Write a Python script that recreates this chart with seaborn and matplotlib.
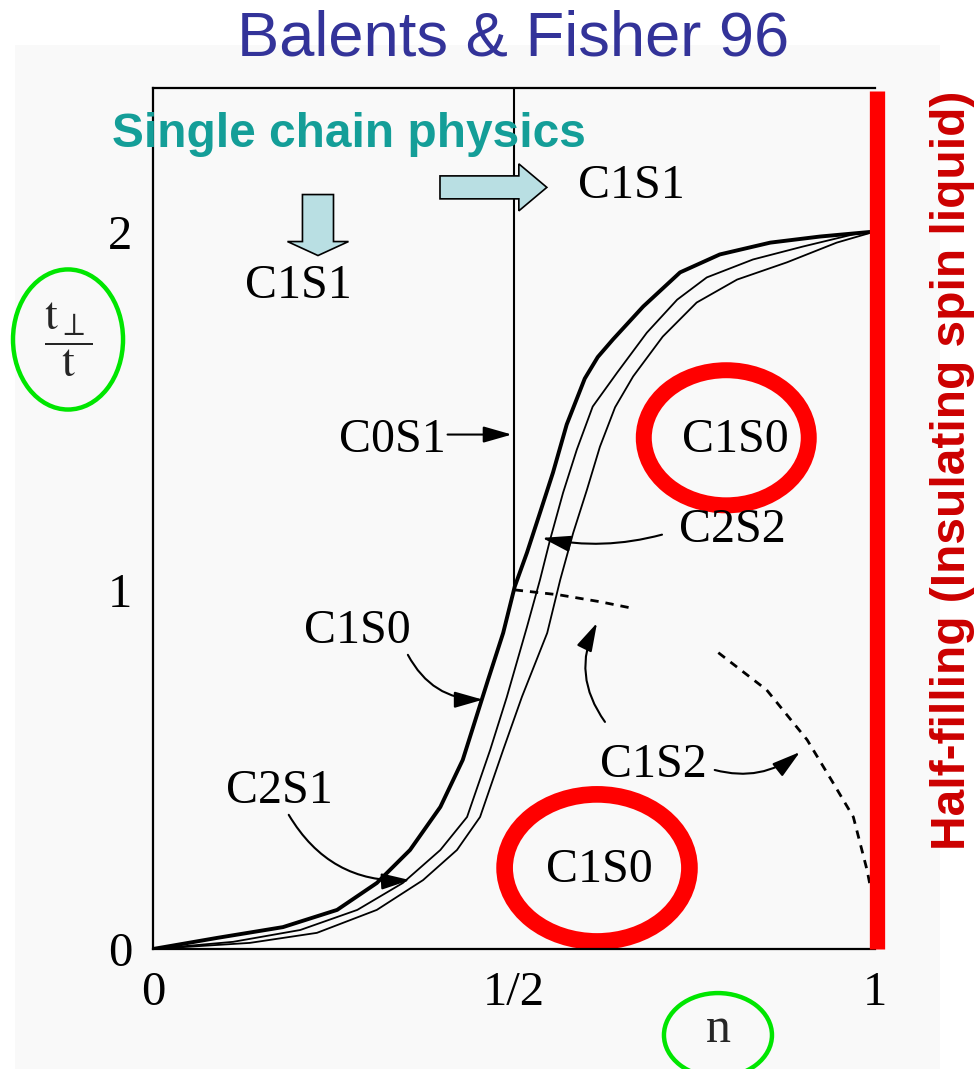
import numpy as np
import pandas as pd
import matplotlib
matplotlib.use("Agg")
import matplotlib.pyplot as plt
import seaborn as sns
from matplotlib.patches import Ellipse, Rectangle, FancyArrow

# ---------------- data ----------------
thick_n = [0.0, 0.089, 0.180, 0.255, 0.310, 0.356, 0.398, 0.429, 0.464, 0.485, 0.501,
           0.518, 0.536, 0.554, 0.573, 0.598, 0.616, 0.637, 0.679, 0.730, 0.785, 0.855, 0.924, 1.0]
thick_t = [0.0, 0.031, 0.061, 0.109, 0.184, 0.276, 0.396, 0.527, 0.750, 0.881, 1.010,
           1.105, 1.216, 1.328, 1.462, 1.590, 1.650, 1.699, 1.791, 1.886, 1.936, 1.969, 1.986, 2.0]

mid_n = [0.0, 0.111, 0.204, 0.283, 0.346, 0.398, 0.435, 0.467, 0.490, 0.518, 0.536,
         0.550, 0.568, 0.587, 0.609, 0.643, 0.684, 0.726, 0.767, 0.831, 0.900, 0.970, 1.0]
mid_t = [0.0, 0.020, 0.053, 0.109, 0.184, 0.276, 0.368, 0.555, 0.702, 0.898, 1.029,
         1.141, 1.272, 1.392, 1.512, 1.607, 1.718, 1.810, 1.872, 1.922, 1.958, 1.992, 2.0]

right_n = [0.0, 0.134, 0.227, 0.310, 0.374, 0.421, 0.453, 0.485, 0.511, 0.546, 0.564,
           0.582, 0.601, 0.619, 0.640, 0.665, 0.706, 0.753, 0.809, 0.878, 0.947, 1.0]
right_t = [0.0, 0.017, 0.045, 0.109, 0.192, 0.276, 0.368, 0.555, 0.703, 0.881, 1.029,
           1.160, 1.280, 1.400, 1.510, 1.596, 1.707, 1.802, 1.866, 1.914, 1.969, 2.0]

half_line_n = [0.5, 0.5]
half_line_t = [1.0, 2.4]

dash_upper_n = [0.501, 0.563, 0.619, 0.661]
dash_upper_t = [1.001, 0.987, 0.968, 0.951]

dash_right_n = [0.783, 0.850, 0.906, 0.942, 0.970, 0.989, 0.993]
dash_right_t = [0.826, 0.722, 0.583, 0.463, 0.368, 0.220, 0.179]

x_ticks = [0, 0.5, 1]
x_ticklabels = ["0", "1/2", "1"]
y_ticks = [0, 1, 2]
y_ticklabels = ["0", "1", "2"]

title_text = "Balents & Fisher 96"
single_chain_text = "Single chain physics"
half_filling_text = "Half-filling (Insulating spin liquid)"

# ---------------- style ----------------
sns.set_theme(style="white")
plt.rcParams['font.family'] = ['Liberation Serif', 'DejaVu Serif']
plt.rcParams['mathtext.fontset'] = 'stix'

W, H = 978, 1069
fig = plt.figure(figsize=(W / 100, H / 100), dpi=100)
fig.patch.set_facecolor('white')
fig.patches.append(Rectangle((15 / W, 0), (940 - 15) / W, (H - 45) / H,
                             transform=fig.transFigure, facecolor='#f9f9f9',
                             edgecolor='none', zorder=-5))

ax = fig.add_axes([153 / W, (H - 949) / H, 722 / W, 861 / H])
ax.set_facecolor('#f9f9f9')
ax.set_xlim(0, 1)
ax.set_ylim(0, 2.4)

# curves
sns.lineplot(x=thick_n, y=thick_t, ax=ax, color='black', lw=2.8, sort=False, estimator=None)
sns.lineplot(x=mid_n, y=mid_t, ax=ax, color='black', lw=1.3, sort=False, estimator=None)
sns.lineplot(x=right_n, y=right_t, ax=ax, color='black', lw=1.3, sort=False, estimator=None)
sns.lineplot(x=half_line_n, y=half_line_t, ax=ax, color='black', lw=1.5, sort=False, estimator=None)
sns.lineplot(x=dash_upper_n, y=dash_upper_t, ax=ax, color='black', lw=2.0, sort=False,
             estimator=None, linestyle=(0, (3, 2.5)))
sns.lineplot(x=dash_right_n, y=dash_right_t, ax=ax, color='black', lw=2.0, sort=False,
             estimator=None, linestyle=(0, (3, 2.5)))

# red half filling line
ax.axvline(1.003, ymin=0, ymax=0.997, color='#ff0000', lw=11, clip_on=False, zorder=5,
           solid_capstyle='butt')

# spines and ticks
for s in ['left', 'bottom', 'top']:
    ax.spines[s].set_color('black')
    ax.spines[s].set_linewidth(1.6)
ax.spines['right'].set_visible(False)
ax.set_xticks(x_ticks)
ax.set_xticklabels(x_ticklabels, fontsize=35)
ax.set_yticks(y_ticks)
ax.set_yticklabels(y_ticklabels, fontsize=35)
ax.tick_params(axis='both', direction='in', length=12, width=1.2, color='black',
               labelcolor='black')
ax.tick_params(axis='x', pad=16)
ax.tick_params(axis='y', pad=15)
ax.grid(False)

# axis labels
ax.set_xlabel('n', fontsize=36, va='baseline')
ax.xaxis.set_label_coords(0.7825, -0.108)
ax.set_ylabel(r'$\dfrac{\mathrm{t}_{\perp}}{\mathrm{t}}$', fontsize=33, rotation=0,
              ha='center', va='center')
ax.yaxis.set_label_coords(-0.1177, 0.7073)

# green ellipses around axis labels
ax.add_patch(Ellipse((-0.1177, 1.699), 0.1524, 0.3905, fill=False, edgecolor='#00e600',
                     lw=3.2, clip_on=False))
ax.add_patch(Ellipse((0.7825, -0.240), 0.1496, 0.2343, fill=False, edgecolor='#00e600',
                     lw=3.2, clip_on=False))

# red circles
ax.add_patch(Ellipse((0.794, 1.425), 0.2285, 0.3766, fill=False, edgecolor='#ff0000', lw=11.5))
ax.add_patch(Ellipse((0.615, 0.226), 0.256, 0.410, fill=False, edgecolor='#ff0000', lw=12))

# phase labels
lab_kw = dict(fontsize=34.5, ha='center', va='center', color='black')
ax.text(0.201, 1.847, 'C1S1', **lab_kw)
ax.text(0.663, 2.126, 'C1S1', **lab_kw)
ax.text(0.331, 1.420, 'C0S1', **lab_kw)
ax.text(0.806, 1.420, 'C1S0', **lab_kw)
ax.text(0.803, 1.169, 'C2S2', **lab_kw)
ax.text(0.283, 0.887, 'C1S0', **lab_kw)
ax.text(0.175, 0.441, 'C2S1', **lab_kw)
ax.text(0.693, 0.513, 'C1S2', **lab_kw)
ax.text(0.618, 0.220, 'C1S0', **lab_kw)

# annotation arrows
def arr(start, end, rad):
    ax.annotate('', xy=end, xytext=start,
                arrowprops=dict(arrowstyle='-|>,head_length=0.7,head_width=0.2',
                                mutation_scale=25, color='black', lw=1.5,
                                shrinkA=0, shrinkB=0,
                                connectionstyle=f'arc3,rad={rad}'))

arr((0.408, 1.434), (0.497, 1.434), 0.0)
arr((0.705, 1.155), (0.539, 1.146), -0.12)
arr((0.353, 0.820), (0.457, 0.695), 0.3)
arr((0.188, 0.374), (0.356, 0.192), 0.3)
arr((0.778, 0.499), (0.896, 0.549), 0.25)
arr((0.626, 0.633), (0.615, 0.909), -0.3)

# light-blue block arrows
ax.add_patch(FancyArrow(0.2285, 2.103, 0, -0.170, width=0.043, head_width=0.0845,
                        head_length=0.039, length_includes_head=True,
                        facecolor='#b9dfe3', edgecolor='black', lw=1.2, zorder=4))
ax.add_patch(FancyArrow(0.3975, 2.123, 0.148, 0, width=0.064, head_width=0.131,
                        head_length=0.0388, length_includes_head=True,
                        facecolor='#b9dfe3', edgecolor='black', lw=1.2, zorder=4))

# figure texts
fig.text(513 / W, 1 - 55 / H, title_text, fontsize=45.5, color='#333399',
         family='Liberation Sans', ha='center', va='baseline')
fig.text(112 / W, 1 - 147 / H, single_chain_text, fontsize=34.5, color='#149e98',
         family='Liberation Sans', fontweight='bold', ha='left', va='baseline')
fig.text(953 / W, 1 - 470 / H, half_filling_text, fontsize=34.5, color='#cc0000',
         family='Liberation Sans', fontweight='bold', rotation=90, ha='center', va='center')

fig.savefig('out.png', dpi=100, facecolor='white')
